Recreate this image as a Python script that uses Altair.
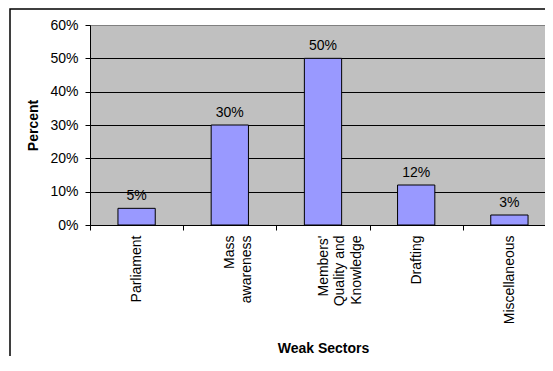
import altair as alt
import pandas as pd

categories = ["Parliament", "Mass\nawareness", "Members'\nQuality and\nKnowledge", "Drafting", "Miscellaneous"]
values = [0.05, 0.30, 0.50, 0.12, 0.03]
y_ticks = [0, 0.1, 0.2, 0.3, 0.4, 0.5, 0.6]

df = pd.DataFrame({"sector": categories, "percent": values})
FONT = "Liberation Sans"

W, H = 466, 200

x_enc = alt.X(
    "sector:N", sort=categories, title="Weak Sectors",
    scale=alt.Scale(paddingInner=0, paddingOuter=0),
    axis=alt.Axis(
        labelAngle=-90, labelExpr="split(datum.label, '\\n')", labelLineHeight=16.5,
        tickBand="extent", tickSize=5, labelPadding=5, labelOverlap=False,
        titleX=233, titleY=127, titleBaseline="alphabetic",
    ),
)
y_enc = alt.Y(
    "percent:Q", title="Percent",
    scale=alt.Scale(domain=[0, 0.6], nice=False),
    axis=alt.Axis(
        values=y_ticks, format=".0%", grid=True,
        gridColor=alt.condition("datum.value >= 0.6", alt.value("#808080"), alt.value("black")),
        tickSize=5, labelPadding=7,
        titleX=-57, titleY=100, titleAngle=-90, titleBaseline="middle", titleAlign="center",
    ),
)

frame = alt.Chart(alt.Data(values=[{}])).mark_rect(
    fill=None, stroke="black", strokeWidth=1.5
).encode(
    x=alt.value(-80), x2=alt.value(W + 40), y=alt.value(-16), y2=alt.value(400)
)

bars = alt.Chart(df).mark_bar(
    width=alt.RelativeBandSize(0.4), fill="#9999FF", stroke="black", strokeWidth=1
).encode(x=x_enc, y=y_enc)

labels = alt.Chart(df).mark_text(
    dy=-8.5, baseline="alphabetic", fontSize=14, font=FONT, color="black"
).encode(x=x_enc, y=y_enc, text=alt.Text("percent:Q", format=".0%"))

chart = alt.layer(frame, bars, labels).properties(
    width=W, height=H,
    autosize=alt.AutoSizeParams(type="none"),
    padding={"left": 82, "top": 17, "right": -11, "bottom": 131},
    background="white",
).configure_view(
    fill="#C0C0C0", stroke="#808080", strokeWidth=1
).configure_axis(
    labelFont=FONT, labelFontSize=14, labelColor="black",
    titleFont=FONT, titleFontSize=14, titleFontWeight="bold", titleColor="black",
    domainColor="black", tickColor="black", domainWidth=1, tickWidth=1, gridWidth=1,
)

chart.save("out.html", embed_options={"renderer": "svg", "actions": False})
